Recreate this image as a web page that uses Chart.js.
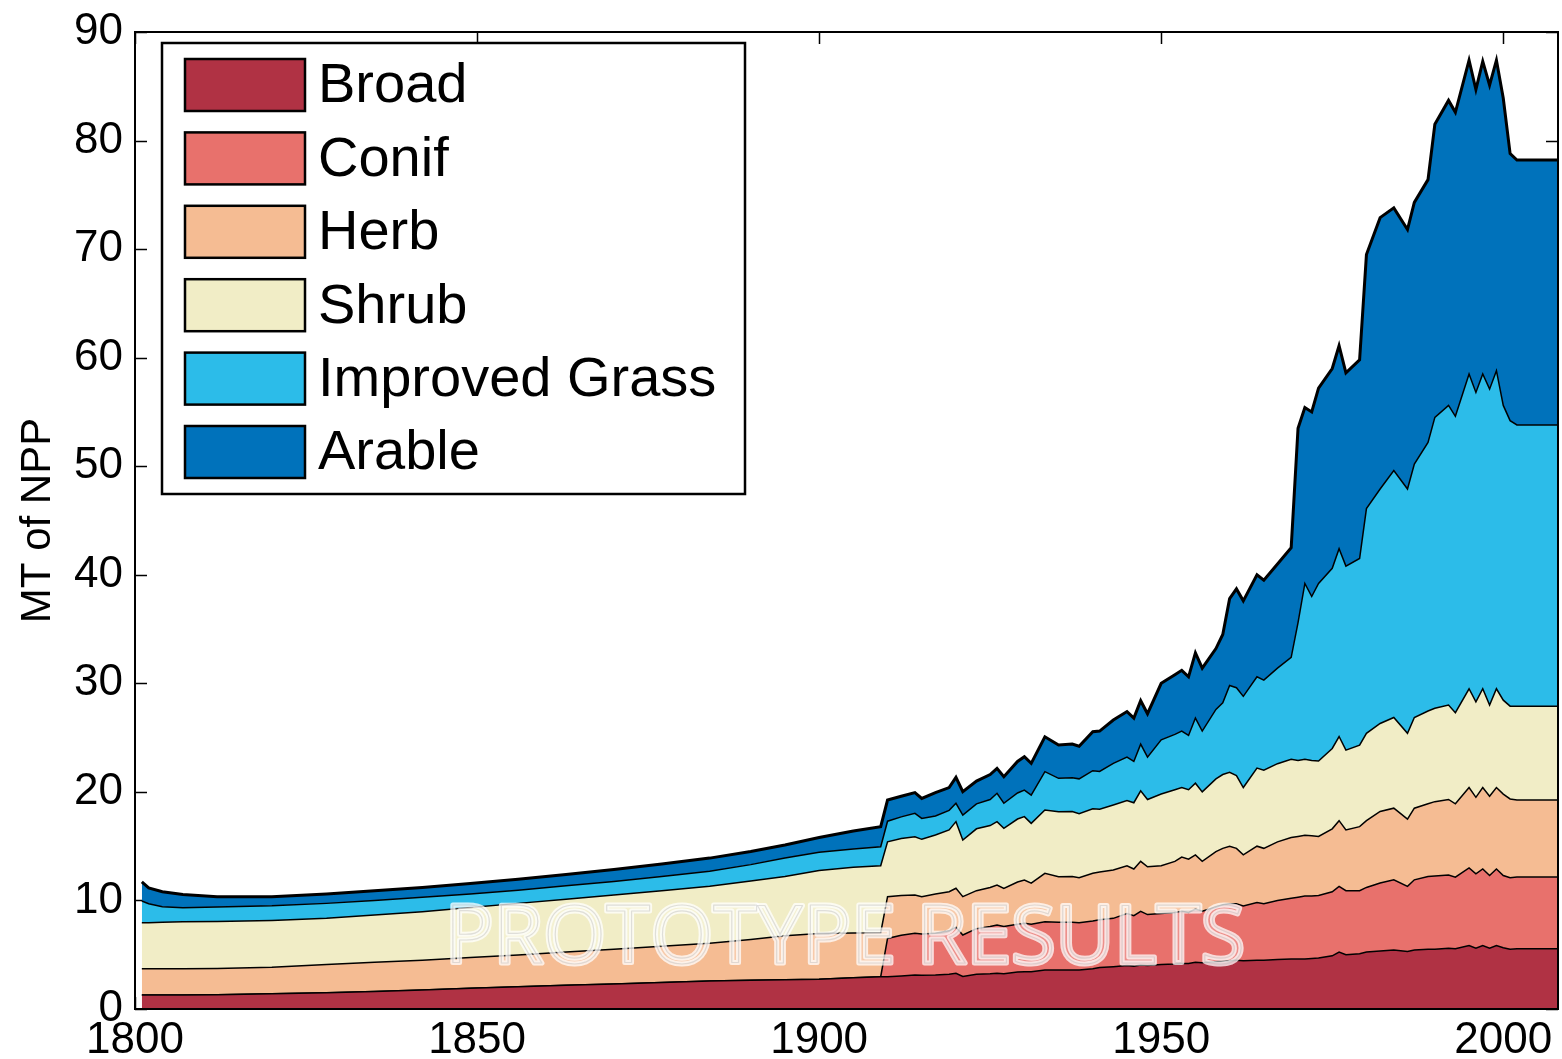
<!DOCTYPE html>
<html>
<head>
<meta charset="utf-8">
<title>MT of NPP</title>
<script src="https://cdn.jsdelivr.net/npm/chart.js"></script>
<style>
  body { margin: 0; background: #fff; }
  canvas { display: block; }
</style>
</head>
<body>
<canvas id="nppChart" width="1562" height="1059"></canvas>
<script>
// ---------- data ----------
const years = [
  1801,1802,1804,1807,1812,1820,1828,1835,1842,1849,
  1856,1863,1870,1877,1884,1890,1895,1900,1905,1909,
  1910,1912,1914,1915,1917,1919,1920,1921,1923,1925,
  1926,1927,1929,1930,1931,1933,1935,1937,1938,1940,
  1941,1943,1945,1946,1947,1948,1950,1952,1953,1954,
  1955,1956,1958,1959,1960,1961,1962,1964,1965,1967,
  1969,1970,1971,1972,1973,1975,1976,1977,1979,1980,
  1982,1984,1986,1987,1989,1990,1992,1993,1995,1996,
  1997,1998,1999,2000,2001,2002,2008
];

const broad = [
  1.29,1.29,1.29,1.30,1.32,1.40,1.50,1.62,1.75,1.90,
  2.05,2.18,2.30,2.45,2.58,2.65,2.70,2.75,2.88,2.98,
  2.98,3.05,3.13,3.10,3.13,3.20,3.29,3.00,3.20,3.25,
  3.29,3.25,3.40,3.44,3.44,3.59,3.59,3.59,3.60,3.70,
  3.82,3.90,4.00,3.95,4.05,4.00,4.10,4.15,4.20,4.20,
  4.30,4.25,4.35,4.40,4.45,4.50,4.45,4.50,4.50,4.55,
  4.60,4.60,4.60,4.65,4.70,4.90,5.25,5.00,5.10,5.25,
  5.35,5.43,5.30,5.43,5.50,5.50,5.60,5.55,5.85,5.60,
  5.85,5.60,5.85,5.65,5.50,5.55,5.55
];

const conif = [
  0,0,0,0,0,0,0,0,0,0,
  0,0,0,0,0,0,0,0,0,0,
  3.52,3.75,3.84,3.80,3.84,4.00,4.24,3.82,4.20,4.35,
  4.45,4.35,4.40,4.45,4.36,4.45,4.41,4.41,4.35,4.40,
  4.40,4.45,4.80,4.65,4.95,4.70,4.70,4.75,4.80,4.70,
  4.90,4.75,5.05,5.20,5.25,5.20,5.05,5.30,5.20,5.45,
  5.60,5.70,5.80,5.75,5.75,5.90,6.05,5.90,5.80,5.95,
  6.25,6.47,6.00,6.47,6.70,6.75,6.75,6.60,7.15,6.85,
  7.05,6.70,7.05,6.65,6.60,6.60,6.60
];

const herb = [
  2.41,2.41,2.41,2.40,2.40,2.45,2.60,2.68,2.75,2.85,
  2.92,3.07,3.20,3.33,3.47,3.75,4.05,4.20,4.12,4.05,
  3.85,3.65,3.53,3.45,3.62,3.60,3.59,3.53,3.50,3.60,
  3.68,3.50,3.90,3.99,3.80,4.46,4.19,4.20,4.15,4.40,
  4.40,4.45,4.40,4.30,4.60,4.40,4.40,4.70,5.00,4.90,
  5.00,4.60,5.10,5.20,5.30,5.10,4.70,5.20,5.10,5.40,
  5.60,5.60,5.60,5.55,5.45,5.80,6.05,5.60,5.90,6.15,
  6.60,6.60,6.20,6.60,6.70,6.85,6.95,6.75,7.40,7.05,
  7.50,7.30,7.50,7.50,7.25,7.10,7.10
];

const shrub = [
  4.25,4.25,4.30,4.34,4.33,4.30,4.25,4.35,4.46,4.60,
  4.76,4.85,5.00,5.12,5.25,5.40,5.45,5.80,6.05,6.17,
  5.05,5.25,5.37,5.28,5.44,5.70,6.14,5.22,5.70,5.70,
  5.84,5.55,5.80,5.84,5.50,5.83,5.98,6.00,5.90,5.95,
  5.78,5.99,6.00,6.10,6.50,6.20,6.60,6.60,6.40,6.40,
  6.60,6.40,6.70,6.80,6.80,6.70,6.20,7.20,7.20,7.20,
  7.20,7.00,7.00,6.95,6.95,7.40,7.75,7.35,7.50,8.05,
  8.10,8.35,7.90,8.35,8.55,8.60,8.70,8.40,9.10,8.80,
  9.10,8.40,9.10,8.65,8.55,8.65,8.65
];

const improvedGrass = [
  2.00,1.75,1.42,1.29,1.35,1.35,1.38,1.35,1.33,1.25,
  1.22,1.25,1.25,1.30,1.40,1.50,1.70,1.70,1.70,1.75,
  1.90,2.00,2.15,1.93,1.75,1.80,1.69,2.30,2.30,2.40,
  2.61,2.30,2.40,2.45,2.61,3.53,3.08,3.10,3.20,3.50,
  3.48,3.84,4.00,3.80,4.30,3.90,5.00,5.10,5.20,5.00,
  6.00,5.60,6.40,6.60,8.00,8.10,8.40,8.40,8.30,8.80,
  9.40,12.70,16.20,15.10,16.35,16.60,17.30,16.95,17.20,20.70,
  21.60,22.75,22.50,23.35,24.75,26.80,27.60,27.30,29.00,28.50,
  29.00,29.10,29.30,27.15,26.30,25.90,25.90
];

const arable = [
  1.75,1.45,1.38,1.22,0.95,0.85,0.87,0.90,0.91,0.95,
  1.00,1.05,1.10,1.15,1.20,1.20,1.20,1.35,1.65,1.85,
  1.95,1.90,1.91,1.84,2.15,2.10,2.39,2.15,2.10,2.30,
  2.30,2.45,2.90,3.07,2.92,3.22,3.07,3.10,3.00,3.60,
  3.72,3.99,4.20,4.00,4.00,4.00,5.20,5.50,5.60,5.40,
  6.00,5.80,5.60,6.30,8.00,9.10,8.80,9.40,9.20,9.60,
  10.10,17.90,16.20,17.00,18.00,18.40,18.70,17.80,18.30,23.40,
  25.00,24.20,23.90,24.10,24.20,27.00,28.10,28.00,28.90,27.90,
  28.80,28.00,28.60,28.30,24.60,24.40,24.40
];

const seriesNames = ["Broad", "Conif", "Herb", "Shrub", "Improved Grass", "Arable"];
const seriesColors = ["#b03244", "#e8716c", "#f5bc93", "#f1edc6", "#2cbce9", "#0072bb"];
const xTicks = [1800, 1850, 1900, 1950, 2000];
const yTicks = [0, 10, 20, 30, 40, 50, 60, 70, 80, 90];

const FONT = "'Liberation Sans', Arial, Helvetica, sans-serif";

// ---------- datasets ----------
const layers = [broad, conif, herb, shrub, improvedGrass, arable];

const datasets = layers.map((vals, i) => ({
  label: seriesNames[i],
  data: vals.map((v, j) => ({ x: years[j], y: v })),
  backgroundColor: seriesColors[i],
  borderColor: "#000",
  borderWidth: i === layers.length - 1 ? 3 : 1.5,
  fill: i === 0 ? "origin" : "-1",
  pointRadius: 0,
  tension: 0
}));

// inward tick marks, drawn under the areas like in the original
const tickMarks = {
  id: "tickMarks",
  beforeDatasetsDraw(chart) {
    const { ctx, chartArea: a, scales } = chart;
    const len = 12;
    ctx.save();
    ctx.strokeStyle = "#000";
    ctx.lineWidth = 1.5;
    ctx.beginPath();
    yTicks.forEach(v => {
      const y = Math.round(scales.y.getPixelForValue(v)) + 0.5;
      ctx.moveTo(a.left, y); ctx.lineTo(a.left + len, y);
      ctx.moveTo(a.right, y); ctx.lineTo(a.right - len, y);
    });
    xTicks.forEach(v => {
      const x = Math.round(scales.x.getPixelForValue(v)) + 0.5;
      ctx.moveTo(x, a.top); ctx.lineTo(x, a.top + len);
      ctx.moveTo(x, a.bottom); ctx.lineTo(x, a.bottom - len);
    });
    ctx.stroke();
    ctx.restore();
  }
};

// axes box + watermark
const frameAndMark = {
  id: "frameAndMark",
  afterDatasetsDraw(chart) {
    const { ctx, chartArea: a } = chart;
    ctx.save();
    ctx.strokeStyle = "#000";
    ctx.lineWidth = 2;
    ctx.strokeRect(a.left, a.top, a.right - a.left, a.bottom - a.top);

    // PROTOTYPE RESULTS watermark
    const text = "PROTOTYPE RESULTS";
    let size = 80;
    ctx.font = size + "px 'Open Sans', sans-serif";
    size = size * 800 / ctx.measureText(text).width;
    ctx.font = size + "px 'Open Sans', sans-serif";
    ctx.textAlign = "center";
    ctx.textBaseline = "alphabetic";
    const cx = 845, by = 963;
    ctx.lineJoin = "round";
    ctx.fillStyle = "rgba(255,255,255,0.22)";
    ctx.fillText(text, cx, by);
    ctx.strokeStyle = "rgba(255,255,255,0.75)";
    ctx.lineWidth = 5;
    ctx.strokeText(text, cx, by);
    ctx.strokeStyle = "rgba(170,170,170,0.35)";
    ctx.lineWidth = 1.2;
    ctx.strokeText(text, cx, by);
    ctx.restore();
  }
};

// legend box in the upper left of the axes
const boxLegend = {
  id: "boxLegend",
  afterDraw(chart) {
    const ctx = chart.ctx;
    const bx = 162, by = 43, bw = 583, bh = 451;
    ctx.save();
    ctx.fillStyle = "#fff";
    ctx.fillRect(bx, by, bw, bh);
    ctx.strokeStyle = "#000";
    ctx.lineWidth = 2.5;
    ctx.strokeRect(bx, by, bw, bh);

    ctx.font = "56px " + FONT;
    ctx.textAlign = "left";
    ctx.textBaseline = "middle";
    chart.data.datasets.forEach((ds, i) => {
      const cy = 85 + i * 73.4;
      ctx.fillStyle = ds.backgroundColor;
      ctx.fillRect(185, cy - 26, 120, 52);
      ctx.lineWidth = 2.5;
      ctx.strokeStyle = "#000";
      ctx.strokeRect(185, cy - 26, 120, 52);
      ctx.fillStyle = "#000";
      ctx.fillText(ds.label, 318, cy + 2);
    });
    ctx.restore();
  }
};

new Chart(document.getElementById("nppChart"), {
  type: "line",
  data: { datasets },
  options: {
    responsive: false,
    animation: false,
    events: [],
    layout: { padding: { top: 32, right: 4, left: 0, bottom: 0 } },
    plugins: {
      legend: { display: false },
      tooltip: { enabled: false }
    },
    scales: {
      x: {
        type: "linear",
        min: 1800,
        max: 2008,
        grid: { display: false, drawTicks: false },
        border: { display: false },
        afterBuildTicks: s => { s.ticks = xTicks.map(v => ({ value: v })); },
        afterFit: s => { s.height = 50; s.paddingLeft = 0; s.paddingRight = 0; },
        ticks: {
          color: "#000",
          padding: 5,
          maxRotation: 0,
          callback: v => String(v),
          font: { family: FONT, size: 44 }
        }
      },
      y: {
        stacked: true,
        min: 0,
        max: 90,
        grid: { display: false, drawTicks: false },
        border: { display: false },
        afterBuildTicks: s => { s.ticks = yTicks.map(v => ({ value: v })); },
        afterFit: s => { s.width = 135; s.paddingTop = 0; s.paddingBottom = 0; },
        ticks: {
          color: "#000",
          padding: 12,
          font: { family: FONT, size: 44 }
        },
        title: {
          display: true,
          text: "MT of NPP",
          color: "#000",
          padding: { top: 13, bottom: 0 },
          font: { family: FONT, size: 42 }
        }
      }
    }
  },
  plugins: [tickMarks, frameAndMark, boxLegend]
});
</script>
</body>
</html>
